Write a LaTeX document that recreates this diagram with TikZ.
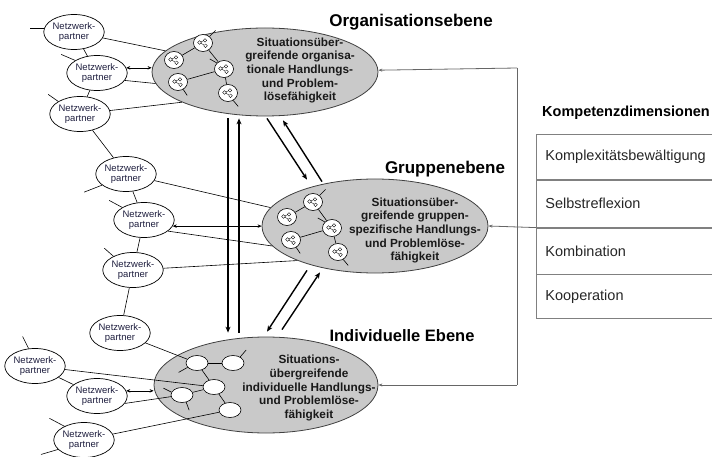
\documentclass[tikz,border=0pt]{standalone}
\usepackage{fontspec}
\setmainfont{Liberation Sans}
\usetikzlibrary{shapes.geometric,arrows.meta,calc}
\definecolor{ellfill}{HTML}{C9C9C9}
\definecolor{ptext}{HTML}{202040}
\begin{document}
\begin{tikzpicture}[x=1pt,y=-1pt,
  bigell/.style={ellipse,draw=black!75,fill=ellfill,line width=0.8pt,inner sep=0pt},
  ebtext/.style={font=\fontsize{11.8}{13.7}\selectfont\bfseries,align=center,inner sep=0pt,text=black!90},
  title/.style={font=\fontsize{17}{19}\selectfont\bfseries,inner sep=0pt},
  partner/.style={ellipse,draw,fill=white,line width=0.7pt,minimum width=50,minimum height=35,inner sep=0pt,font=\fontsize{9.5}{10.5}\selectfont,text=ptext,align=center},
  mini/.style={ellipse,draw,fill=white,line width=0.6pt,minimum width=19,minimum height=17,inner sep=0pt,
    path picture={
      \path (path picture bounding box.center) coordinate (pc);
      \draw[line width=0.35pt] ($(pc)+(-3.5pt,0.5pt)$) circle (1.8pt) ($(pc)+(2pt,2.6pt)$) circle (1.8pt) ($(pc)+(2.5pt,-2.8pt)$) circle (1.8pt);
      \draw[line width=0.35pt] ($(pc)+(-2pt,1.2pt)$) -- ($(pc)+(0.5pt,2.2pt)$) ($(pc)+(-2pt,-0.3pt)$) -- ($(pc)+(1pt,-2pt)$);
    }},
  wmini/.style={ellipse,draw,fill=white,line width=0.6pt,minimum width=22,minimum height=15,inner sep=0pt},
  link/.style={line width=0.6pt},
  dbl/.style={line width=0.6pt,{Stealth[length=4pt,width=3.5pt]}-{Stealth[length=4pt,width=3.5pt]}},
  fb/.style={draw=black!60,line width=0.8pt,-{Stealth[length=4pt,width=3pt]}},
  fbl/.style={draw=black!60,line width=0.8pt},
  big/.style={line width=1.4pt,-{Stealth[length=6pt,width=5pt]}},
  row/.style={draw=black!50,line width=0.8pt,rectangle,minimum width=180,anchor=north west,inner xsep=9pt,inner ysep=0pt,text width=170,align=left,font=\fontsize{14.5}{16}\selectfont,text=black!85}
]
\useasboundingbox (0,0) rectangle (712,457);

% level ellipses
\node[bigell,minimum width=226,minimum height=88] (org) at (265,72) {};
\node[bigell,minimum width=226,minimum height=94] (grp) at (375,226) {};
\node[bigell,minimum width=224,minimum height=96] (ind) at (266,385) {};

% titles
\node[title] (torg) at (411,22) {Organisationsebene};
\node[title] (tgrp) at (445,169) {Gruppenebene};
\node[title,font=\fontsize{16.5}{19}\selectfont\bfseries] (tind) at (402,336) {Individuelle Ebene};

% table
\node[anchor=west,inner sep=0pt,font=\fontsize{14.5}{17}\selectfont\bfseries] (kdh) at (542,113) {Kompetenzdimensionen};
\node[row,minimum height=45] (r1) at (536,134) {Komplexitätsbewältigung};
\node[row,minimum height=47] (r2) at (r1.south west) {Selbstreflexion};
\node[row,minimum height=46] (r3) at (r2.south west) {Kombination};
\node[row,minimum height=44] (r4) at (r3.south west) {Kooperation};

% feedback connectors
\coordinate (fbT) at (517,68);
\coordinate (fbB) at (517,385);
\draw[fbl] (fbT) -- (fbB);
\draw[fb] (fbT) -- (org);
\draw[fb] (fbB) -- (ind);
\draw[fb] (r3.north west) -- (grp.east);

% mini nodes organisation
\node[mini] (o1) at (203,43) {};
\node[mini] (o2) at (174,60) {};
\node[mini] (o3) at (224,69) {};
\node[mini] (o4) at (178,82) {};
\node[mini] (o5) at (228,93) {};
% mini nodes group
\node[mini] (g1) at (313,202) {};
\node[mini] (g2) at (287,217) {};
\node[mini] (g3) at (332,228) {};
\node[mini] (g4) at (291,240) {};
\node[mini] (g5) at (338,252) {};
% mini nodes individual
\node[wmini] (i1) at (197,363) {};
\node[wmini] (i2) at (233,363) {};
\node[wmini] (i3) at (214,387) {};
\node[wmini] (i4) at (182,395) {};
\node[wmini] (i5) at (230,410) {};

\foreach \p in {o,g}{
  \draw[link] (\p2) -- (\p1);
  \draw[link] (\p1) -- (\p3);
  \draw[link] (\p3) -- (\p4);
  \draw[link] (\p3) -- (\p5);
  \draw[link] (\p1.45) -- ++(6,-6);
  \draw[link] (\p3.140) -- ++(-7,-4);
  \draw[link] (\p4.-55) -- ++(4,6);
  \draw[link] (\p5.-55) -- ++(5,6);
}
\draw[link] (i1) -- (i2);
\draw[link] (i1) -- (i3);
\draw[link] (i3) -- (i4);
\draw[link] (i3) -- (i5);
\draw[link] (i1.205) -- ++(-9,5);
\draw[link] (i2.40) -- ++(6,-7);
\draw[link] (i4.165) -- ++(-8,-4);
\draw[link] (i4.-60) -- ++(3,8);

% texts in ellipses
\node[ebtext] (torgx) at (300,70.5) {Situationsüber-\\greifende organisa-\\tionale Handlungs-\\und Problem-\\lösefähigkeit};
\node[ebtext] (tgrpx) at (415,230.5) {Situationsüber-\\greifende gruppen-\\spezifische Handlungs-\\und Problemlöse-\\fähigkeit};
\node[ebtext] (tindx) at (309,388) {Situations-\\übergreifende\\individuelle Handlungs-\\und Problemlöse-\\fähigkeit};

% network partners
\node[partner] (p1) at (74,32) {Netzwerk-\\partner};
\node[partner] (p2) at (97,73) {Netzwerk-\\partner};
\node[partner] (p3) at (80,114) {Netzwerk-\\partner};
\node[partner] (p4) at (126,174) {Netzwerk-\\partner};
\node[partner] (p5) at (144,220) {Netzwerk-\\partner};
\node[partner] (p6) at (133,270) {Netzwerk-\\partner};
\node[partner] (p7) at (120,333) {Netzwerk-\\partner};
\node[partner] (p8) at (35,366) {Netzwerk-\\partner};
\node[partner] (p9) at (97,396) {Netzwerk-\\partner};
\node[partner] (p10) at (84,440) {Netzwerk-\\partner};

% partner chains
\draw[link] (p1) -- (p2);
\draw[link] (p2) -- (p3);
\draw[link] (p3) -- (p4);
\draw[link] (p4) -- (p5);
\draw[link] (p5) -- (p6);
\draw[link] (p6) -- (p7);
\draw[link] (p8) -- (p9);

% partner stubs
\draw[link] (p1.172) -- ++(-14,0);
\draw[link] (p2.150) -- ++(-14,-6);
\draw[link] (p3.150) -- ++(-10,-7);
\draw[link] (p4.205) -- ++(-18,7);
\draw[link] (p5.150) -- ++(-13,-7);
\draw[link] (p6.145) -- ++(-9,-8);
\draw[link] (p8.110) -- ++(-6,-12);
\draw[link] (p10.145) -- ++(-15,-8);
\draw[link] (p10.200) -- ++(-17,5);

% partner links to levels
\draw[link] (p1) -- (org.168);
\draw[link] (p2.-15) -- (org.186);
\draw[link] (p3) -- (org.200);
\draw[link] (p4) -- (grp.170);
\draw[link] (p5.-25) -- (grp.191);
\draw[link] (p6) -- (grp.204);
\draw[link] (p7) -- (i1);
\draw[link] (p8) -- (i3);
\draw[link] (p9.-15) -- (i4);
\draw[link] (p10) -- (i5);

% double arrows
\draw[dbl] (p2.10) -- (org.west |- p2.10);
\draw[dbl] (p5.-12) -- (grp.west |- p5.-12);
\draw[dbl] (p9.10) -- (ind.west |- p9.10);

% thick arrows between levels
\draw[big] ($(org.south)+(-37,2)$) -- ($(ind.north)+(-38,-4)$);
\draw[big] ($(ind.north)+(-27,-4)$) -- ($(org.south)+(-26,2)$);
\draw[big] ($(org.south)+(2,2)$) -- ($(grp.north)+(-68,1)$);
\draw[big] ($(grp.north)+(-53,3)$) -- ($(org.south)+(18,4)$);
\draw[big] ($(grp.south)+(-68,-3)$) -- ($(ind.north)+(1,-5)$);
\draw[big] ($(ind.north)+(16,-7)$) -- ($(grp.south)+(-55,-1)$);
\end{tikzpicture}
\end{document}
